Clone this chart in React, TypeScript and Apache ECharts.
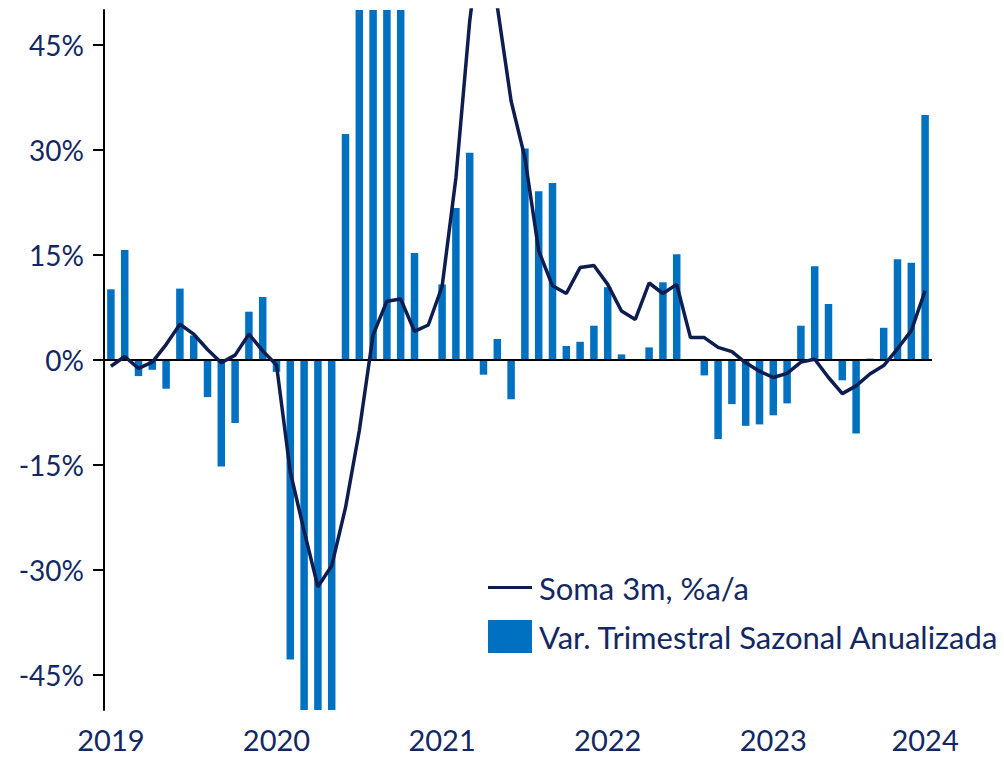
import React, { useEffect, useRef } from "react";
import * as echarts from "echarts";

const months: string[] = [];
for (let y = 2019; y <= 2023; y++) {
  for (let m = 1; m <= 12; m++) months.push(`${y}-${String(m).padStart(2, "0")}`);
}

const xTickIndex = [0, 12, 24, 36, 48, 59];
const xTickLabels = ["2019", "2020", "2021", "2022", "2023", "2024"];
const yTicks = [-45, -30, -15, 0, 15, 30, 45];

const varTrimestral = [
  10.1, 15.7, -2.3, -1.4, -4.1, 10.2, 3.5, -5.3, -15.2, -9.0, 6.9, 9.0,
  -1.7, -42.8, -58, -62, -55, 32.3, 62, 58, 66, 55, 15.3, 0.1,
  10.8, 21.7, 29.6, -2.1, 3.0, -5.6, 30.2, 24.1, 25.3, 2.0, 2.6, 4.9,
  10.4, 0.8, 0, 1.8, 11.1, 15.1, 0, -2.2, -11.3, -6.3, -9.4, -9.2,
  -7.9, -6.2, 4.9, 13.4, 8.0, -2.9, -10.5, 0.2, 4.6, 14.4, 13.9, 35.0,
];

const soma3m = [
  -0.9, 0.5, -1.2, -0.3, 2.2, 5.1, 3.7, 1.5, -0.4, 0.7, 3.7, 1.3,
  -0.7, -16.0, -24.4, -32.4, -29.4, -21.1, -10.1, 3.6, 8.4, 8.7, 4.1, 5.0,
  10.5, 26, 48.4, 64, 50.5, 37, 28.9, 15.6, 10.6, 9.5, 13.2, 13.5,
  10.8, 7.0, 5.8, 11.0, 9.5, 10.8, 3.2, 3.2, 1.8, 1.2, -0.4, -1.6,
  -2.5, -1.9, -0.3, 0.1, -2.5, -4.8, -3.7, -2.0, -0.8, 1.6, 4.2, 9.9,
];

const TEXT = "#132863";
const BAR = "#0070C0";
const LINE = "#0D1D50";
const FONT = "Lato";

export default function App() {
  const ref = useRef<HTMLDivElement>(null);
  useEffect(() => {
    if (!ref.current) return;
    const chart = echarts.init(ref.current, undefined, { renderer: "svg" });
    chart.setOption({
      animation: false,
      backgroundColor: "#ffffff",
      textStyle: { fontFamily: FONT },
      grid: { left: 104, right: 72, top: 10, bottom: 49, containLabel: false },
      legend: {
        orient: "vertical",
        left: 483,
        top: 567,
        itemWidth: 44,
        itemHeight: 33,
        itemGap: 17,
        data: [
          { name: "Soma 3m, %a/a", icon: "path://M0,15 L44,15 L44,18 L0,18 Z" },
          { name: "Var. Trimestral Sazonal Anualizada", icon: "rect" },
        ],
        textStyle: { color: TEXT, fontSize: 31, fontFamily: FONT, padding: [0, 0, 0, 2] },
      },
      xAxis: {
        type: "category",
        data: months,
        boundaryGap: true,
        axisLine: { show: false },
        axisTick: { show: false },
        axisLabel: {
          interval: (index: number) => xTickIndex.includes(index),
          formatter: (_v: string, index: number) => {
            const k = xTickIndex.indexOf(index);
            return k >= 0 ? xTickLabels[k] : "";
          },
          color: TEXT,
          fontSize: 29,
          fontFamily: FONT,
          margin: 15,
        },
        splitLine: { show: false },
      },
      yAxis: {
        type: "value",
        min: -50,
        max: 50,
        axisLine: { show: true, lineStyle: { color: "#000000", width: 2 } },
        axisTick: {
          show: true,
          customValues: yTicks,
          length: 11,
          lineStyle: { color: "#000000", width: 2 },
        },
        axisLabel: {
          customValues: yTicks,
          formatter: (v: number) => `${v}%`,
          color: TEXT,
          fontSize: 28,
          fontFamily: FONT,
          margin: 20,
        },
        splitLine: { show: false },
      },
      series: [
        {
          name: "Var. Trimestral Sazonal Anualizada",
          type: "bar",
          data: varTrimestral,
          barWidth: 7.5,
          itemStyle: { color: BAR },
          clip: true,
          z: 2,
          markLine: {
            silent: true,
            symbol: "none",
            label: { show: false },
            lineStyle: { color: "#000000", width: 2, type: "solid" },
            data: [{ yAxis: 0 }],
            z: 3,
          },
        },
        {
          name: "Soma 3m, %a/a",
          type: "line",
          data: soma3m,
          symbol: "none",
          showSymbol: false,
          clip: true,
          lineStyle: { color: LINE, width: 3.5 },
          itemStyle: { color: LINE },
          z: 4,
        },
      ],
    });
    return () => chart.dispose();
  }, []);
  return (
    <div
      ref={ref}
      style={{ position: "fixed", left: 0, top: 0, width: 1004, height: 759, background: "#fff" }}
    />
  );
}
